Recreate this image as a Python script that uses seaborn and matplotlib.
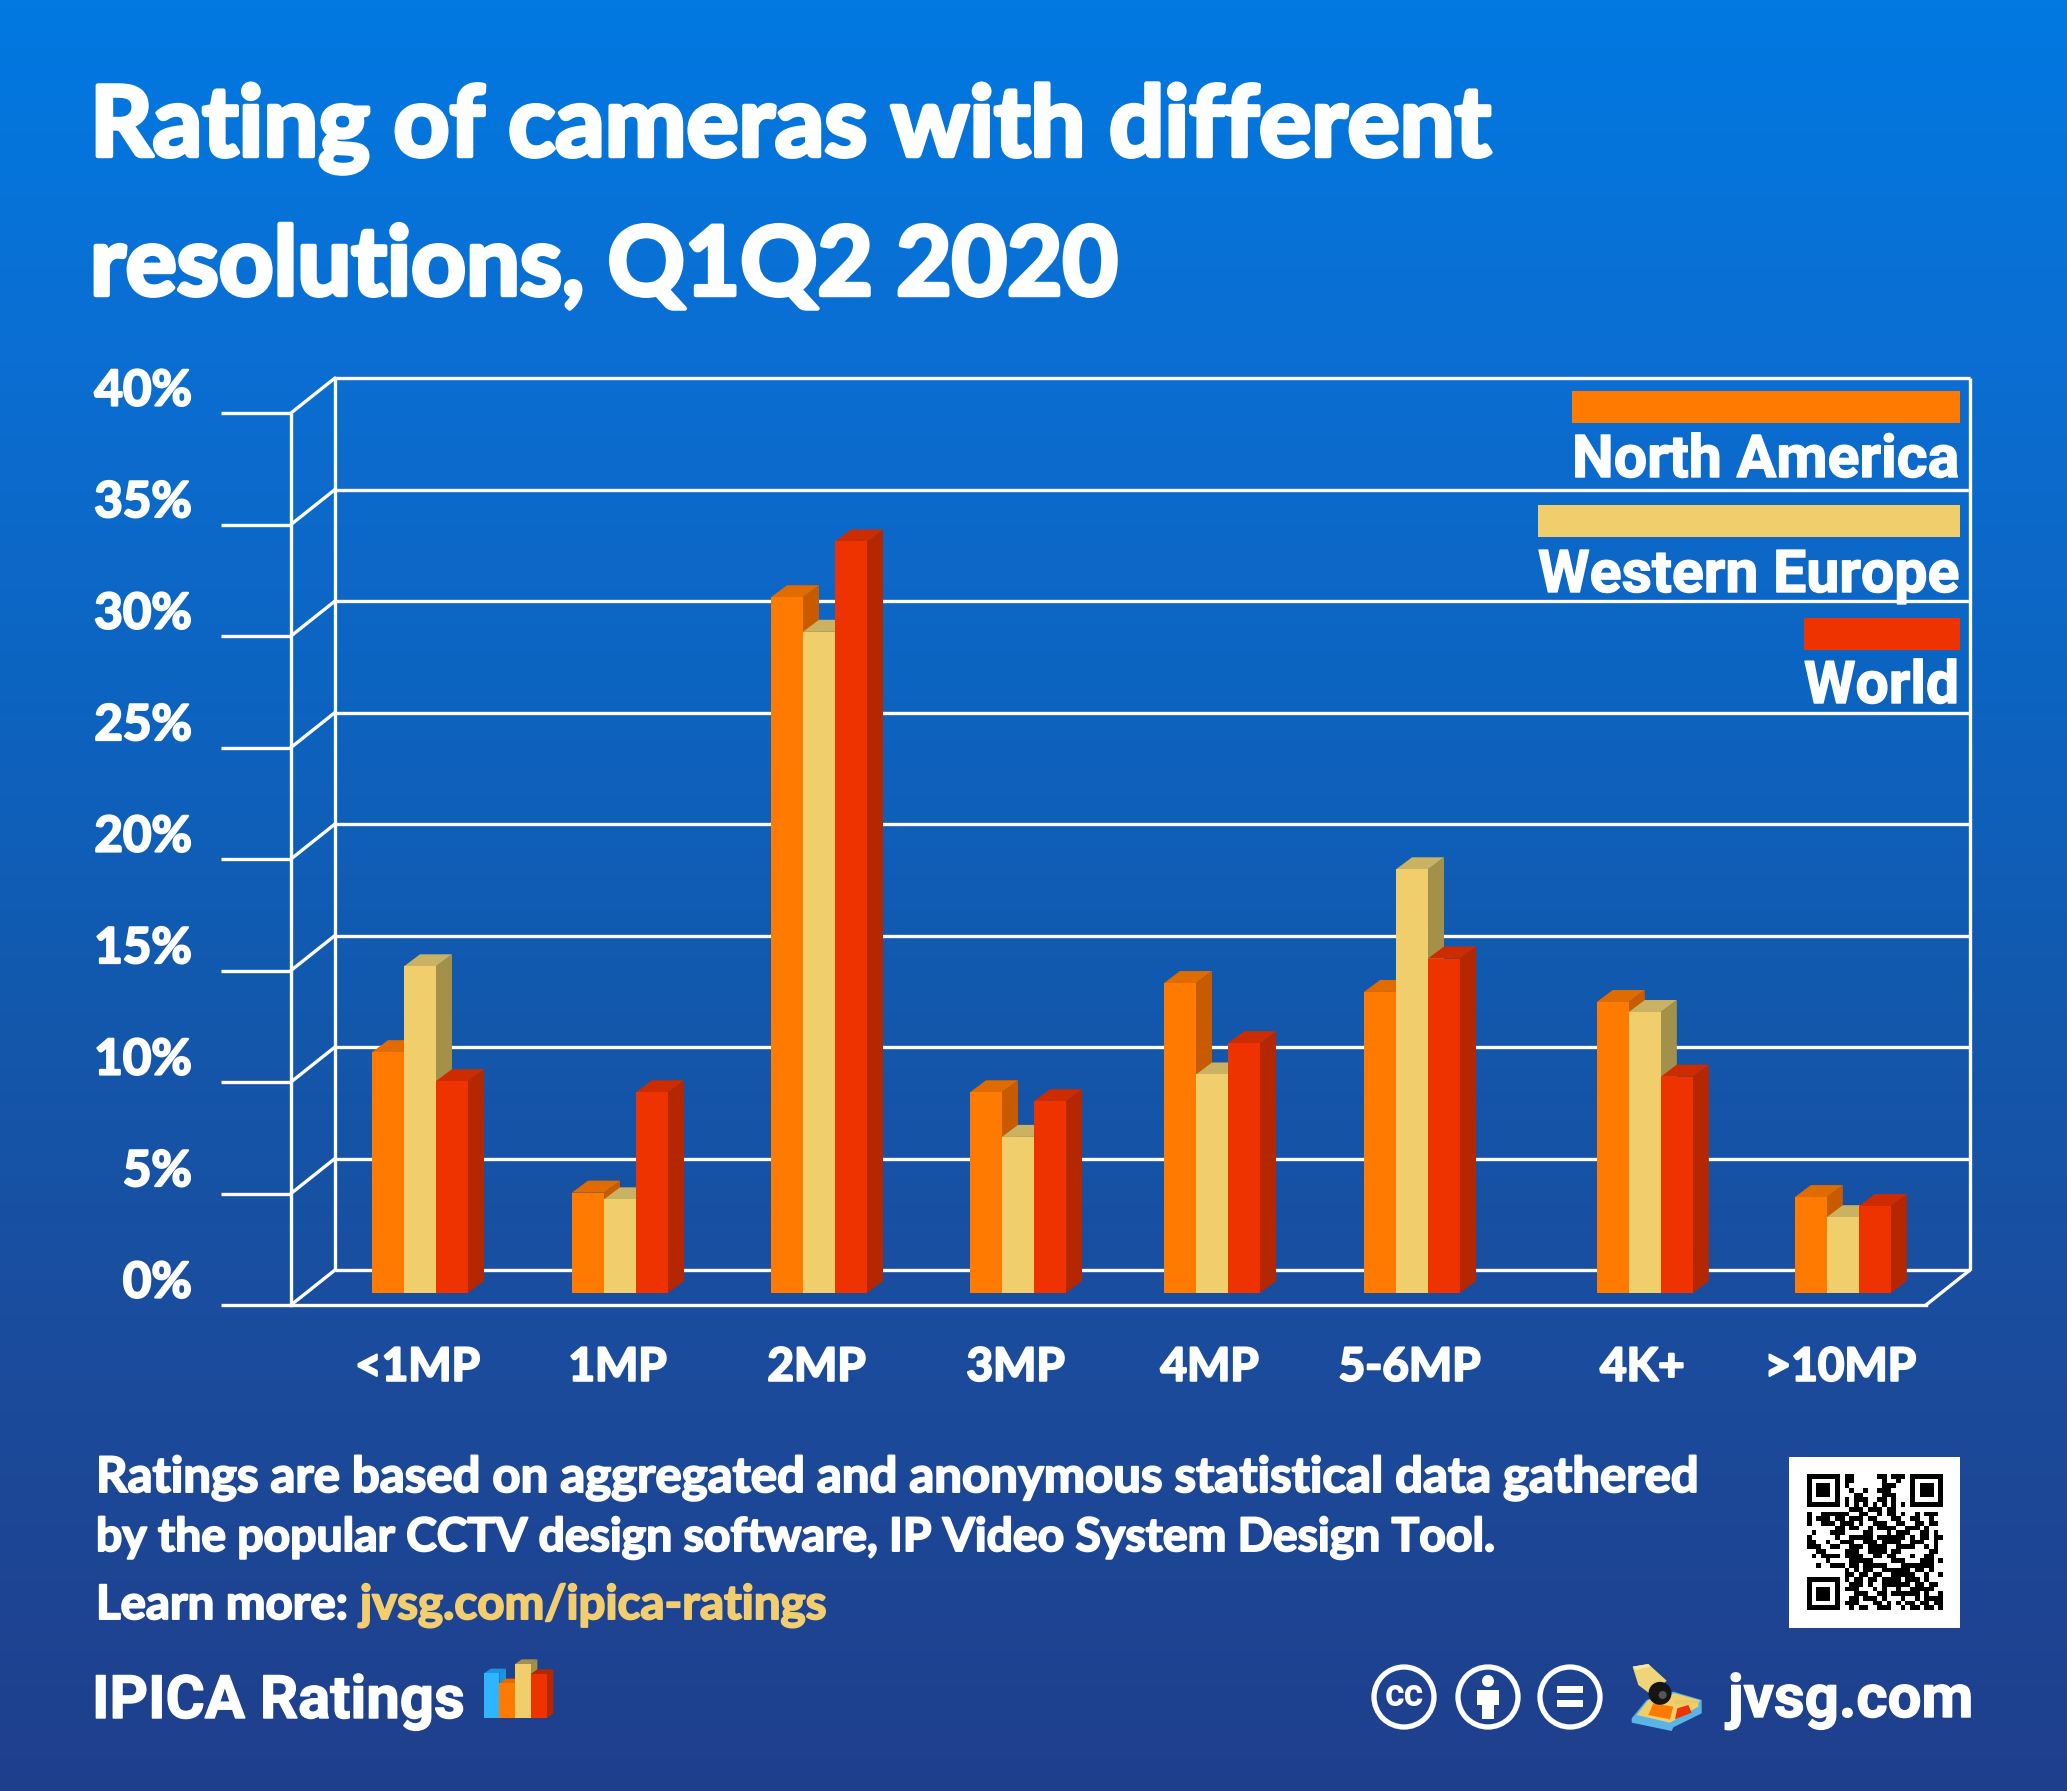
import numpy as np
import pandas as pd
import seaborn as sns
import matplotlib.pyplot as plt
import matplotlib.patheffects as pe
from matplotlib.colors import LinearSegmentedColormap
from matplotlib.patches import Circle, Polygon, Rectangle
from matplotlib.transforms import Affine2D

# values, in %
resolutions = ["<1MP", "1MP", "2MP", "3MP", "4MP", "5-6MP", "4K+", ">10MP"]
north_america = [10.8, 4.5, 31.2, 9.0, 13.9, 13.5, 13.05, 4.3]
western_europe = [14.65, 4.2, 29.65, 7.0, 9.8, 19.0, 12.6, 3.4]
world = [9.5, 9.0, 33.7, 8.6, 11.2, 15.0, 9.7, 3.9]
regions = ["North America", "Western Europe", "World"]
y_ticks = [0, 5, 10, 15, 20, 25, 30, 35, 40]
y_labels = ["0%", "5%", "10%", "15%", "20%", "25%", "30%", "35%", "40%"]

# the groups are not evenly spaced in the original
group_pos = [0, 1.005, 2.005, 3.005, 3.98, 4.985, 6.155, 7.15]

front = {"North America": "#FF7A00", "Western Europe": "#F0CE6C", "World": "#EE3300"}
top = {"North America": "#E06C00", "Western Europe": "#C9B262", "World": "#CC2C00"}
side = {"North America": "#C85A00", "Western Europe": "#A3904A", "World": "#B52700"}

W, H = 2067, 1791
sns.set_style("white")
plt.rcParams["font.family"] = ["Lato", "DejaVu Sans"]


def heavy(px):
    # the original font is heavier than Lato Bold
    return [pe.withStroke(linewidth=px, foreground="white")]


df = pd.DataFrame({
    "pos": group_pos * 3,
    "value": north_america + western_europe + world,
    "region": np.repeat(regions, len(resolutions)),
})

fig = plt.figure(figsize=(W / 100, H / 100), dpi=100)

# background gradient
bg = fig.add_axes([0, 0, 1, 1], zorder=-1)
cmap = LinearSegmentedColormap.from_list("bg", [
    (0, "#0079E1"), (0.2, "#0B6ED2"), (0.4, "#0D63BF"),
    (0.55, "#1259AE"), (0.75, "#1B4C9D"), (1, "#1F3F8C"),
])
bg.imshow(np.linspace(0, 1, 256)[:, None], cmap=cmap, aspect="auto")
bg.axis("off")

# main axes: front plane of the 3d box
ax = fig.add_axes([291 / W, (H - 1305) / H, (1926 - 291) / W, 892 / H], zorder=1)
ax.patch.set_alpha(0)
sns.barplot(data=df, x="pos", y="value", hue="region", hue_order=regions, palette=front,
            native_scale=True, width=96 / 199 / 0.975, saturation=1, linewidth=0,
            errorbar=None, legend=False, ax=ax)
ax.set_xlim((291 - 420) / 199, (1926 - 420) / 199)
ax.set_ylim(0, 40)
ax.set_xlabel("")
ax.set_ylabel("")

x_unit, y_unit = 199, 892 / 40
lw = 2.4

# wireframe of the box
back = ax.transData + Affine2D().translate(44, 35)
x0, x1 = ax.get_xlim()
ax.hlines(y_ticks, x0, x1, color="white", lw=lw, transform=back, clip_on=False, zorder=1)
ax.vlines([x0, x1], 0, 40, color="white", lw=lw, transform=back, clip_on=False, zorder=1)
for v in y_ticks:
    ax.plot([x0, x0 + 44 / x_unit], [v, v + 35 / y_unit], color="white", lw=lw, clip_on=False, zorder=1)
ax.plot([x1, x1 + 44 / x_unit], [0, 35 / y_unit], color="white", lw=lw, clip_on=False, zorder=1)

# extrude the seaborn bars
lift = ax.transData + Affine2D().translate(0, 12)
dx, dy = 16 / x_unit, 12 / y_unit
for i, (region, bars) in enumerate(zip(regions, ax.containers)):
    for bar in bars:
        a, b, h = bar.get_x(), bar.get_x() + bar.get_width(), bar.get_height()
        bar.set_transform(lift)
        bar.set_zorder(4 + 2 * i)
        bar.set_clip_on(False)
        ax.add_patch(Polygon([(b, 0), (b + dx, dy), (b + dx, h + dy), (b, h)], fc=side[region], lw=0,
                             transform=lift, zorder=3 + 2 * i, clip_on=False))
        ax.add_patch(Polygon([(a, h), (a + dx, h + dy), (b + dx, h + dy), (b, h)], fc=top[region], lw=0,
                             transform=lift, zorder=3 + 2 * i, clip_on=False))

sns.despine(ax=ax)
for s in ["left", "bottom"]:
    ax.spines[s].set_color("white")
    ax.spines[s].set_linewidth(lw)

ax.set_yticks(y_ticks, y_labels, fontsize=35.5, fontweight="bold", color="white")
ax.tick_params(axis="y", left=True, length=70 * 0.72, width=lw, color="white", pad=21)
for lab in ax.get_yticklabels():
    lab.set_transform(lab.get_transform() + Affine2D().translate(0, 26))
    lab.set_path_effects(heavy(1.6))
ax.set_xticks([p - 0.012 for p in group_pos], resolutions, fontsize=33, fontweight="bold", color="white")
ax.tick_params(axis="x", bottom=False, length=0, pad=30)
for lab in ax.get_xticklabels():
    lab.set_path_effects(heavy(1.6))

# overlay in picture pixels for texts and little icons
fg = fig.add_axes([0, 0, 1, 1], zorder=5)
fg.set_xlim(0, W)
fg.set_ylim(H, 0)
fg.axis("off")
fg.patch.set_alpha(0)
rend = fig.canvas.get_renderer()


def fit_text(s, xa, xb, base, color="white", font="Lato", stroke=1.4):
    t = fg.text(xa, base, s, color=color, fontweight="bold", family=[font, "DejaVu Sans"],
                fontsize=40, ha="left", va="baseline")
    t.set_fontsize(40 * (xb - xa) / t.get_window_extent(rend).width)
    t.set_path_effects([pe.withStroke(linewidth=stroke, foreground=color)])
    return t


fit_text("Rating of cameras with different", 90, 1490, 156, stroke=3.2)
fit_text("resolutions, Q1Q2 2020", 90, 1117, 295, stroke=3.2)

fit_text("Ratings are based on aggregated and anonymous statistical data gathered", 96, 1698, 1492)
fit_text("by the popular CCTV design software, IP Video System Design Tool.", 96, 1494, 1551)
fit_text("Learn more:", 96, 348, 1619)
fit_text("jvsg.com/ipica-ratings", 360, 826, 1619, color="#F2CE6E")
fit_text("IPICA Ratings", 92, 464, 1718, font="Roboto", stroke=1)
fit_text("jvsg.com", 1728, 1973, 1717, font="Roboto", stroke=1)

# legend
legend_spots = [(1572, 391, 477), (1538, 505, 592), (1804, 618, 703)]
for region, (xa, yb, base) in zip(regions, legend_spots):
    fg.add_patch(Rectangle((xa, yb), 1960 - xa, 32, fc=front[region], lw=0))
    fit_text(region, xa, 1959, base, font="Roboto", stroke=1)

# qr code
qr = [
    "1111111011000001101110" + "1111111",
    "1000001011000000100100" + "1000001",
    "1011101010000000111000" + "1011101",
    "1011101001001001110000" + "1011101",
    "1011101000110000111000" + "1011101",
    "1000001010111001101000" + "1000001",
    "1111111010101010101010" + "1111111",
    "00000000" + "0111011101100" + "00000000",
    "10011111100110010110100101110",
    "10111011011101100011001100100",
    "10011101110100111001100110110",
    "00000011011001011110011101000",
    "01000111000011000101110011010",
    "10000010011111011111101011011",
    "11001001110011101111001110010",
    "11100110011101111001111001010",
    "00110000111001111011000000110",
    "01011110111100110110001001100",
    "00001000011111000011100011101",
    "00100111011011111000111111100",
    "00000000101011001111110110100",
    "00000000" + "110110110011111001001",
    "11111110" + "101101101111011101000",
    "10000010" + "011101001111110110110",
    "10111010" + "111000101001001111100",
    "10111010" + "001110011011111101001",
    "10111010" + "011011101000100101111",
    "10000010" + "111000110101011011011",
    "11111110" + "010110011100101101101",
]
fg.add_patch(Rectangle((1789, 1457), 171, 171, fc="white", lw=0))
qr_ax = fig.add_axes([1807 / W, (H - 1610) / H, 136 / W, 136 / H], zorder=6)
sns.heatmap(np.array([[int(c) for c in r] for r in qr]), cmap=["white", "black"], cbar=False,
            xticklabels=False, yticklabels=False, ax=qr_ax)

# creative commons badges
for cx in [1404, 1488, 1570]:
    fg.add_patch(Circle((cx, 1697), 30, fc="none", ec="white", lw=3.8))
fg.text(1404, 1695, "cc", color="white", fontsize=27, fontweight="bold", family=["Roboto"], ha="center", va="center")
fg.add_patch(Circle((1488, 1681), 6, fc="white", lw=0))
fg.add_patch(Polygon([(1477, 1690), (1499, 1690), (1499, 1705), (1494, 1705), (1494, 1719), (1482, 1719), (1482, 1705), (1477, 1705)], fc="white", lw=0))
fg.add_patch(Rectangle((1557, 1686), 26, 7, fc="white", lw=0))
fg.add_patch(Rectangle((1557, 1700), 26, 7, fc="white", lw=0))


# jvsg camera logo, coords from the crop
def logo(pts, color, z=6):
    fg.add_patch(Polygon([(1620 + x / 3, 1650 + y / 3) for x, y in pts], fc=color, lw=0, zorder=z))


logo([(35, 205), (35, 218), (155, 243), (160, 232), (245, 190), (245, 150), (160, 125), (80, 150)], "#5AB4E8")
logo([(50, 195), (150, 218), (235, 170), (235, 150), (165, 130), (85, 150)], "#F0CE6C")
logo([(85, 195), (150, 208), (160, 170), (100, 160)], "#FF7A00")
logo([(165, 208), (215, 188), (205, 165), (172, 175)], "#EE3300")
logo([(160, 150), (240, 150), (235, 160), (165, 162)], "#E8C868")
logo([(38, 50), (85, 42), (140, 92), (95, 135), (55, 105)], "#EFD57A")
logo([(38, 50), (85, 42), (92, 50), (48, 60)], "#F8E8A8")
fg.add_patch(Circle((1620 + 120 / 3, 1650 + 130 / 3), 11.5, fc="#151515", lw=0, zorder=7))
fg.add_patch(Circle((1620 + 128 / 3, 1650 + 135 / 3), 4, fc="#555555", lw=0, zorder=7))

# ipica mini chart, coords from the crop
mini = [
    (42, 88, 70, "#2FB4FF", "#1E94E0"),
    (88, 135, 100, "#FF7A00", "#E06C00"),
    (135, 182, 42, "#F0CE6C", "#A3904A"),
    (182, 230, 72, "#EE3300", "#B52700"),
]
for a, b, t, c, c2 in mini:
    pts = lambda l: [(470 + x / 3, 1650 + y / 3) for x, y in l]
    fg.add_patch(Polygon(pts([(b, 205), (b + 20, 190), (b + 20, t - 14), (b, t)]), fc=c2, lw=0))
    fg.add_patch(Polygon(pts([(a, t), (a + 20, t - 14), (b + 20, t - 14), (b, t)]), fc=c2, lw=0))
    fg.add_patch(Polygon(pts([(a, 205), (b, 205), (b, t), (a, t)]), fc=c, lw=0))

fig.savefig("out.png", dpi=100)
